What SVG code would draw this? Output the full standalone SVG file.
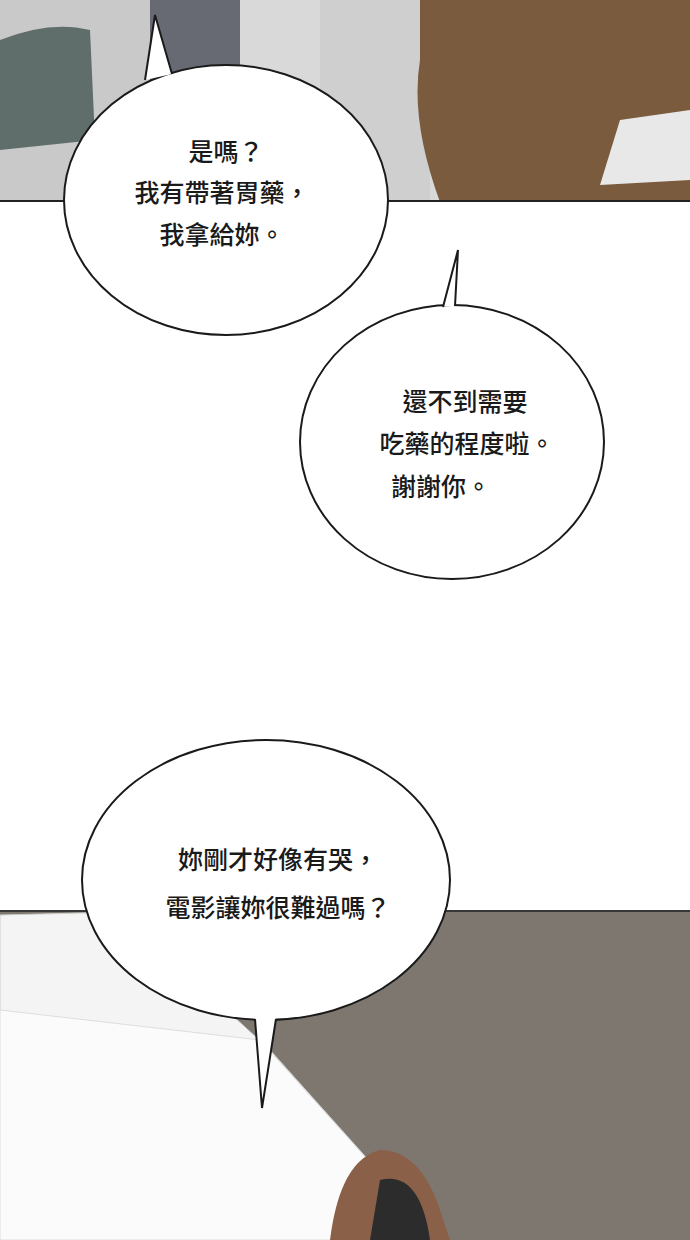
<svg xmlns="http://www.w3.org/2000/svg" width="690" height="1240" viewBox="0 0 690 1240">
<style>
.b{fill:#fff;stroke:#1a1a1a;stroke-width:2}
.tl{fill:none;stroke:#1a1a1a;stroke-width:2;stroke-linejoin:miter}
.t{font-family:"Noto Sans CJK TC","Noto Sans CJK SC",sans-serif;font-size:25px;font-weight:500;fill:#1a1a1a;text-anchor:middle}
</style>
<rect width="690" height="1240" fill="#fff"/>
<g id="top-panel">
<rect x="0" y="0" width="690" height="202" fill="#d9d9d9"/>
<rect x="0" y="0" width="160" height="202" fill="#c9c9c9"/>
<path d="M0 40 Q50 20 90 30 L95 140 L0 150Z" fill="#5f6e6a"/>
<rect x="150" y="0" width="90" height="110" fill="#676a72"/>
<rect x="320" y="0" width="110" height="202" fill="#cfcfcf"/>
<path d="M420 0 L690 0 L690 202 L440 202 Q410 120 420 60Z" fill="#7a5b3e"/>
<path d="M620 120 L690 110 L690 180 L600 185Z" fill="#e8e8e8"/>
<line x1="0" y1="201" x2="690" y2="201" stroke="#222" stroke-width="2"/>
</g>
<g id="bottom-panel">
<rect x="0" y="910" width="690" height="330" fill="#fff"/>
<path d="M0 910 L690 910 L690 1240 L440 1240 L260 1040 L0 1040Z" fill="#7d776f"/>
<path d="M0 915 L120 912 L270 1050 L440 1240 L0 1240Z" fill="#f4f4f4" stroke="#ccc"/>
<path d="M0 1010 L260 1040 L440 1240 L0 1240Z" fill="#fbfbfb" stroke="#ddd"/>
<path d="M330 1240 Q340 1160 380 1150 Q420 1150 440 1210 L450 1240Z" fill="#8a6048"/>
<path d="M380 1180 Q420 1170 430 1240 L370 1240Z" fill="#2c2c2c"/>
<line x1="0" y1="911" x2="690" y2="911" stroke="#222" stroke-width="1.5"/>
</g>
<g id="bubble1">
<ellipse class="b" cx="226" cy="200" rx="162" ry="135"/>
<path d="M145 80 L155 15 L172 74 Z" fill="#fff"/>
<polyline class="tl" points="145,80 155,15 172,74"/>
<text class="t" x="226" y="161">是嗎？</text>
<text class="t" x="222" y="202">我有帶著胃藥，</text>
<text class="t" x="222" y="244">我拿給妳。</text>
</g>
<g id="bubble2">
<ellipse class="b" cx="452" cy="442" rx="152" ry="137"/>
<path d="M443 306 L458 250 L455 306 Z" fill="#fff"/>
<polyline class="tl" points="443,307 458,250 455,306"/>
<text class="t" x="465" y="411">還不到需要</text>
<text class="t" x="467" y="453">吃藥的程度啦。</text>
<text class="t" x="441" y="496">謝謝你。</text>
</g>
<g id="bubble3">
<ellipse class="b" cx="266" cy="880" rx="184" ry="140"/>
<path d="M255 1018 L262 1108 L276 1018 Z" fill="#fff"/>
<polyline class="tl" points="255,1019 262,1108 276,1019"/>
<text class="t" x="278" y="869">妳剛才好像有哭，</text>
<text class="t" x="278" y="917">電影讓妳很難過嗎？</text>
</g>
<g id="connectors"/>
</svg>
